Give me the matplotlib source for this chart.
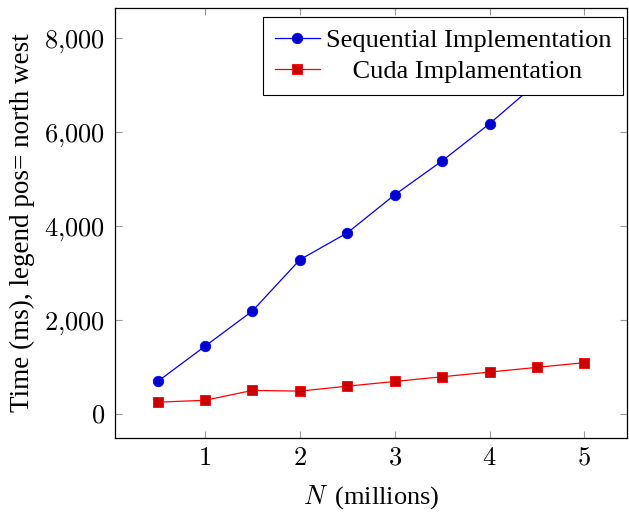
import matplotlib
matplotlib.use("Agg")
import matplotlib.pyplot as plt
from matplotlib.ticker import FuncFormatter

n_millions = [0.5, 1.0, 1.5, 2.0, 2.5, 3.0, 3.5, 4.0, 4.5, 5.0]
sequential_ms = [700, 1450, 2200, 3290, 3860, 4670, 5390, 6180, 7050, 7880]
cuda_ms = [260, 300, 510, 495, 600, 700, 800, 900, 1000, 1100]
series_labels = ["Sequential Implementation", "    Cuda Implamentation"]
x_ticks = [1, 2, 3, 4, 5]
y_ticks = [0, 2000, 4000, 6000, 8000]

plt.rcParams["font.family"] = ["Liberation Serif", "DejaVu Serif"]
plt.rcParams["mathtext.fontset"] = "cm"

W, H = 629, 512
fig = plt.figure(figsize=(W / 100, H / 100), dpi=100)
ax = fig.add_axes([115 / W, (H - 438) / H, (627 - 115) / W, (438 - 8) / H])

ax.plot(n_millions, sequential_ms, color="blue", lw=0.9, marker="o", ms=7.5,
        markerfacecolor="#0000cc", markeredgecolor="blue", markeredgewidth=0.6,
        label=series_labels[0], zorder=2)
ax.plot(n_millions, cuda_ms, color="red", lw=0.9, marker="s", ms=7,
        markerfacecolor="#cc0000", markeredgecolor="red", markeredgewidth=0.6,
        label=series_labels[1], zorder=2)

ax.margins(x=0.1, y=0.1)
ax.set_xticks(x_ticks)
ax.set_yticks(y_ticks)
ax.xaxis.set_major_formatter(FuncFormatter(lambda v, p: r"$%d$" % v))
ax.yaxis.set_major_formatter(FuncFormatter(
    lambda v, p: r"$%s$" % f"{int(v):,}".replace(",", "{,}")))
ax.tick_params(direction="in", length=5, width=0.8, color="#999999",
               top=True, right=True, labelsize=19, pad=7)
for s in ax.spines.values():
    s.set_linewidth(0.9)

ax.set_xlabel(r"$N\,$ (millions)", fontsize=19, labelpad=10)
ax.set_ylabel("Time (ms), legend pos= north west", fontsize=19.5, labelpad=7)

leg = ax.legend(loc="upper right", fontsize=19, frameon=True, fancybox=False,
                edgecolor="black", framealpha=1,
                bbox_to_anchor=(623 / W, 1 - 17 / H), bbox_transform=fig.transFigure,
                borderaxespad=0, handlelength=1.7, handletextpad=0.23,
                labelspacing=0.29, borderpad=0.45)
leg.get_frame().set_linewidth(0.8)
leg.set_zorder(5)

fig.savefig("out.png", dpi=100)
